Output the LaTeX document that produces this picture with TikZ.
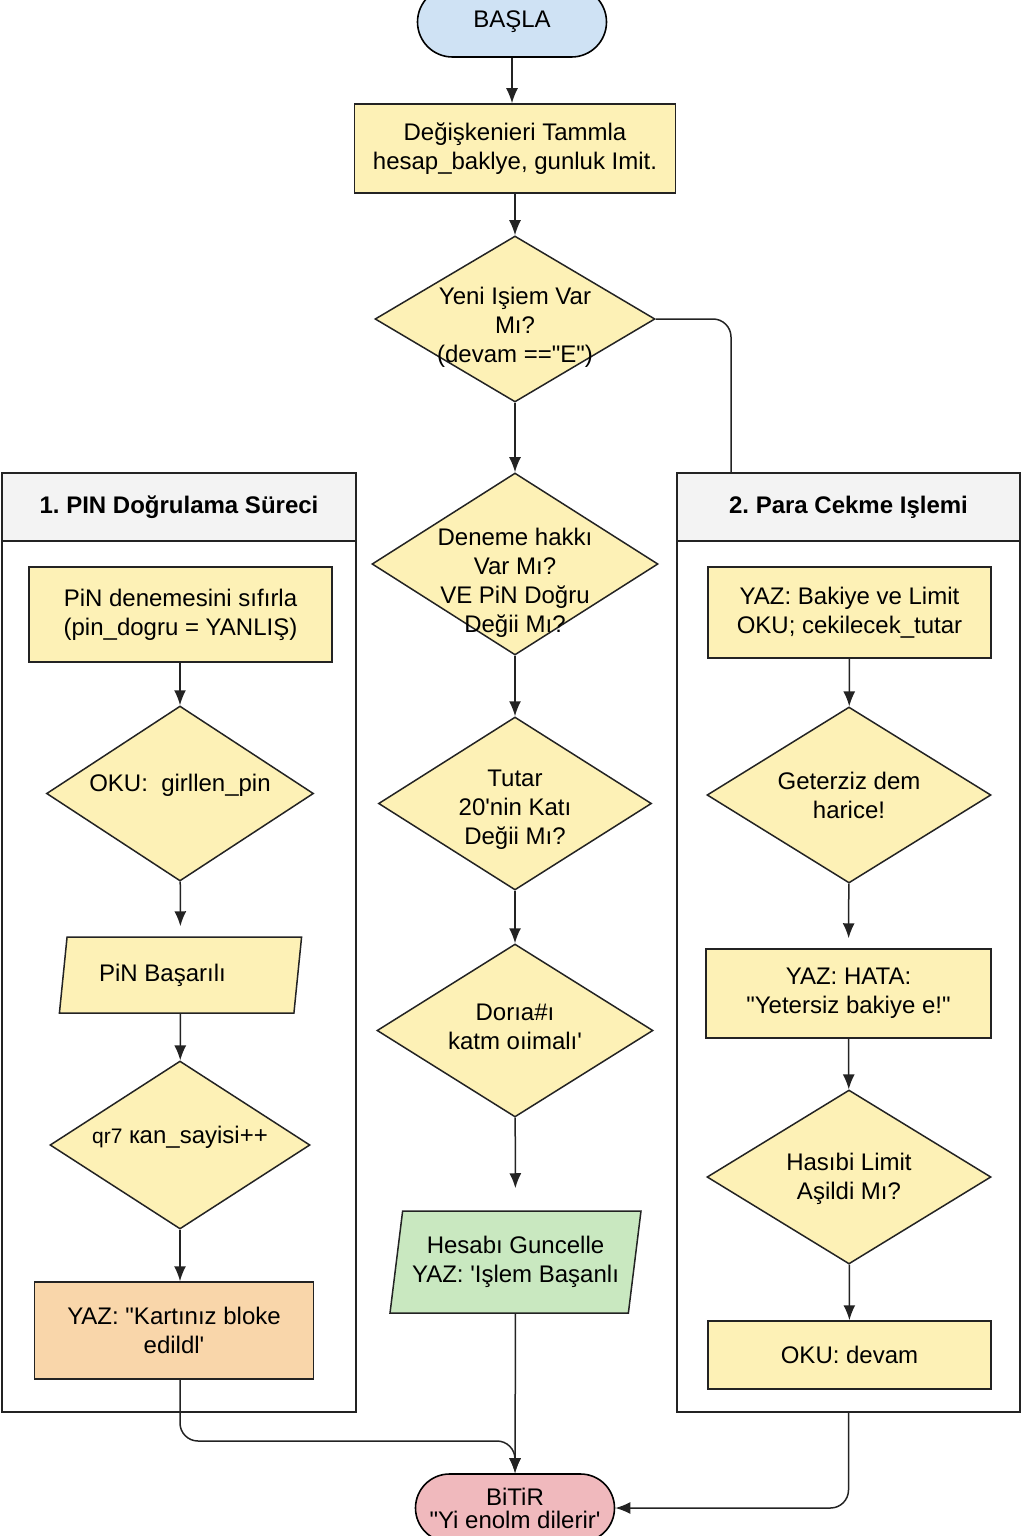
\documentclass[tikz,border=0pt]{standalone}
\usepackage{fontspec}
\setmainfont{Liberation Sans}[Ligatures=TeXOff]
\usetikzlibrary{shapes.geometric,arrows.meta,positioning}

\definecolor{startblue}{RGB}{207,226,244}
\definecolor{stepyellow}{RGB}{253,241,182}
\definecolor{stopred}{RGB}{240,185,189}
\definecolor{donegreen}{RGB}{201,232,192}
\definecolor{blockorange}{RGB}{249,214,170}
\definecolor{headgray}{RGB}{243,243,243}
\definecolor{linegray}{RGB}{35,35,35}

\tikzset{
  txt/.style={align=center, text=black, font=\fontsize{12}{14.5}\selectfont},
  terminal/.style={txt, draw=black, line width=0.8pt, inner sep=0pt},
  procbox/.style={txt, draw=linegray, fill=stepyellow, line width=0.75pt, inner sep=0pt},
  decision/.style={diamond, draw=linegray, fill=stepyellow, line width=0.75pt, inner sep=0pt},
  iobox/.style={trapezium, trapezium left angle=78, trapezium right angle=102,
    trapezium stretches=true, txt, draw=linegray, line width=0.75pt, inner sep=1pt},
  panel/.style={draw=linegray, line width=0.8pt, inner sep=0pt},
  panelhead/.style={panel, fill=headgray, font=\bfseries\fontsize{12}{14.5}\selectfont},
  flow/.style={-{Latex[length=7.5pt,width=6pt]}, line width=0.75pt, linegray},
  link/.style={line width=0.75pt, linegray, rounded corners=9pt},
}

\begin{document}
\begin{tikzpicture}[x=0.5pt,y=-0.5pt]
\clip (0,0) rectangle (1024,1536);

% lanes
\node[panel, minimum width=177pt, minimum height=469.5pt] (lp) at (179,942.5) {};
\node[panelhead, minimum width=177pt, minimum height=34pt] (lph) at (179,507) {1.\ PIN Doğrulama Süreci};
\node[panel, minimum width=171.5pt, minimum height=469.5pt] (rp) at (848.5,942.5) {};
\node[panelhead, minimum width=171.5pt, minimum height=34pt] (rph) at (848.5,507) {2.\ Para Cekme Işlemi};

% main column
\node[terminal, fill=startblue, minimum width=94.5pt, minimum height=35pt, rounded corners=17.5pt] (start) at (512,22) {BAŞLA};
\node[procbox, minimum width=160.5pt, minimum height=44.5pt] (init) at (515,148.5) {Değişkenieri Tammla\\hesap\_baklye, gunluk Imit.};
\node[decision, minimum width=140pt, minimum height=83pt,
  label={[txt,yshift=-4pt]center:{Yeni Işiem Var\\Mı?\\(devam =="E")}}] (newop) at (515,319) {};
\node[decision, minimum width=143pt, minimum height=91pt,
  label={[txt,yshift=-9.5pt]center:{Deneme hakkı\\Var Mı?\\VE PiN Doğru\\Değii Mı?}}] (tryleft) at (515,564) {};
\node[decision, minimum width=136.5pt, minimum height=86.5pt,
  label={[txt,yshift=-3pt]center:{Tutar\\20'nin Katı\\Değii Mı?}}] (mult) at (515,803.5) {};
\node[decision, minimum width=138pt, minimum height=86.5pt,
  label={[txt,yshift=2pt]center:{Dorıa\#ı\\katm oıimalı'}}] (multok) at (515,1030.5) {};
\node[iobox, fill=donegreen, minimum width=125.5pt, minimum height=51pt] (update) at (515.5,1262) {Hesabı Guncelle\\YAZ: 'Işlem Başanlı};
\node[terminal, fill=stopred, minimum width=99.5pt, minimum height=34pt, rounded corners=17pt,
  font=\fontsize{12}{11.5}\selectfont] (stop) at (515,1508) {BiTiR\\"Yi enolm dilerir'};

% PIN lane
\node[procbox, minimum width=151.5pt, minimum height=47.5pt] (pinreset) at (180.5,614.5) {PiN denemesini sıfırla\\(pin\_dogru = YANLIŞ)};
\node[decision, minimum width=133.5pt, minimum height=87.5pt,
  label={[txt,yshift=4pt]center:{OKU:~ girllen\_pin}}] (readpin) at (180,793.5) {};
\node[iobox, fill=stepyellow, minimum width=121.5pt, minimum height=38pt] (pinok) at (180.5,975) {PiN Başarılı\hspace*{18pt}};
\node[decision, minimum width=130pt, minimum height=84pt,
  label={[txt,yshift=4pt]center:{{\fontsize{10.5}{12}\selectfont qr7} кan\_sayisi++}}] (tries) at (180,1145) {};
\node[procbox, fill=blockorange, minimum width=139.5pt, minimum height=48.5pt] (blocked) at (174,1330.5) {YAZ: "Kartınız bloke\\edildl'};

% withdraw lane
\node[procbox, minimum width=141.5pt, minimum height=45.5pt] (showbal) at (849.5,612.5) {YAZ: Bakiye ve Limit\\OKU; cekilecek\_tutar};
\node[decision, minimum width=142pt, minimum height=88pt,
  label={[txt]center:{Geterziz dem\\harice!}}] (balchk) at (849,795) {};
\node[procbox, minimum width=142.5pt, minimum height=44.5pt] (balerr) at (848.5,993.5) {YAZ: HATA:\\"Yetersiz bakiye e!"};
\node[decision, minimum width=142pt, minimum height=87pt,
  label={[txt,yshift=-1pt]center:{Hasıbi Limit\\Aşildi Mı?}}] (limchk) at (849,1177) {};
\node[procbox, minimum width=141.5pt, minimum height=34pt] (readcont) at (849.5,1355) {OKU: devam};

\coordinate (lanetop) at (731,473);
\coordinate (merge) at (515,1441);

% arrows
\draw[flow] (start.south) -- (start.south |- init.north);
\draw[flow] (init) -- (newop);
\draw[link] (newop.east) -| (lanetop);
\draw[flow] (newop) -- (tryleft);
\draw[flow] (tryleft) -- (mult);
\draw[flow] (mult) -- (multok);
\draw[flow, shorten >=11pt] (multok) -- (update);
\draw[flow] (update) -- (stop);

\draw[flow] (pinreset.south -| readpin) -- (readpin);
\draw[flow, shorten >=5pt] (readpin) -- (pinok);
\draw[flow] (pinok) -- (tries);
\draw[flow] (tries) -- (tries |- blocked.north);
\draw[flow, rounded corners=9pt] (blocked.south -| tries) |- (merge) -- (stop.north);

\draw[flow] (showbal) -- (balchk);
\draw[flow, shorten >=5pt] (balchk) -- (balerr);
\draw[flow] (balerr) -- (limchk);
\draw[flow] (limchk) -- (readcont);
\draw[flow, rounded corners=9pt] (rp.south) |- (stop.east);

\end{tikzpicture}
\end{document}
